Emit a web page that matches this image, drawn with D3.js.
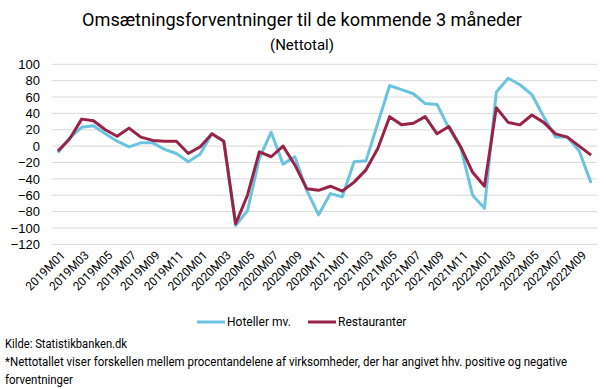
<!DOCTYPE html>
<html lang="da">
<head>
  <meta charset="UTF-8">
  <title>Omsætningsforventninger</title>
  <script src="https://d3js.org/d3.v7.min.js"></script>
  <style>
    body { margin: 0; background: #fff; }
    svg { font-family: Roboto, "Noto Sans", sans-serif; }
  </style>
</head>
<body>
  <div id="chart"></div>

  <script>
    // data
    const months = [
      "2019M01","2019M02","2019M03","2019M04","2019M05","2019M06","2019M07","2019M08","2019M09","2019M10","2019M11","2019M12",
      "2020M01","2020M02","2020M03","2020M04","2020M05","2020M06","2020M07","2020M08","2020M09","2020M10","2020M11","2020M12",
      "2021M01","2021M02","2021M03","2021M04","2021M05","2021M06","2021M07","2021M08","2021M09","2021M10","2021M11","2021M12",
      "2022M01","2022M02","2022M03","2022M04","2022M05","2022M06","2022M07","2022M08","2022M09","2022M10"
    ];
    const hoteller = [
      -8, 10, 23, 25, 15, 6, -1, 4, 4, -4, -9, -19,
      -10, 15, 6, -97, -79, -15, 17, -22, -13, -54, -84, -58,
      -62, -19, -18, 28, 74, 69, 64, 52, 51, 22, -2, -60,
      -76, 66, 83, 75, 63, 36, 11, 11, -6, -45
    ];
    const restauranter = [
      -6, 9, 33, 31, 20, 12, 22, 11, 7, 6, 6, -9,
      -1, 15, 6, -95, -60, -7, -13, 0, -23, -52, -54, -49,
      -55, -44, -29, -3, 36, 26, 28, 36, 15, 24, -1, -32,
      -49, 47, 29, 26, 38, 29, 15, 11, 0, -11
    ];
    const yTicks = [100, 80, 60, 40, 20, 0, -20, -40, -60, -80, -100, -120];
    const seriesNames = ["Hoteller mv.", "Restauranter"];
    const colors = ["#6ac4df", "#992247"];

    const W = 606, H = 389;
    const svg = d3.select("#chart").append("svg")
      .attr("width", W).attr("height", H);

    const x = d3.scaleBand().domain(months).range([52, 597]);
    const y = d3.scaleLinear().domain([-120, 100]).range([244.3, 64.3]);
    const cx = d => x(d) + x.bandwidth() / 2;

    // title
    svg.append("text")
      .attr("x", 302).attr("y", 26)
      .attr("text-anchor", "middle")
      .style("font-size", "18px")
      .attr("textLength", 440).attr("lengthAdjust", "spacingAndGlyphs")
      .text("Omsætningsforventninger til de kommende 3 måneder");
    svg.append("text")
      .attr("x", 302).attr("y", 50)
      .attr("text-anchor", "middle")
      .style("font-size", "14px")
      .attr("textLength", 64).attr("lengthAdjust", "spacingAndGlyphs")
      .text("(Nettotal)");

    // grid + y axis
    svg.append("g").selectAll("line")
      .data(yTicks).enter().append("line")
      .attr("x1", 52).attr("x2", 597)
      .attr("y1", d => y(d)).attr("y2", d => y(d))
      .attr("stroke", "#d9d9d9").attr("stroke-width", 1);

    const yAxis = svg.append("g")
      .attr("transform", "translate(40,0)")
      .call(d3.axisLeft(y).tickValues(yTicks).tickSize(0).tickPadding(0));
    yAxis.select(".domain").remove();
    yAxis.selectAll("text").style("font-size", "13px").attr("fill", "#000");

    // x labels
    svg.append("g").selectAll("text")
      .data(months.filter((d, i) => i % 2 === 0)).enter().append("text")
      .attr("transform", d => `translate(${cx(d) + 5},${253}) rotate(-45)`)
      .attr("text-anchor", "end")
      .attr("dy", "0.35em")
      .style("font-size", "12px")
      .attr("textLength", 50).attr("lengthAdjust", "spacingAndGlyphs")
      .text(d => d);

    // lines
    const line = d3.line().x((d, i) => cx(months[i])).y(d => y(d));
    [hoteller, restauranter].forEach((s, k) => {
      svg.append("path")
        .datum(s)
        .attr("fill", "none")
        .attr("stroke", colors[k])
        .attr("stroke-width", 3)
        .attr("stroke-linejoin", "round")
        .attr("d", line);
    });

    // legend
    const legX = [197, 308];
    seriesNames.forEach((n, k) => {
      svg.append("line")
        .attr("x1", legX[k]).attr("x2", legX[k] + 28)
        .attr("y1", 322).attr("y2", 322)
        .attr("stroke", colors[k]).attr("stroke-width", 3);
      svg.append("text")
        .attr("x", legX[k] + 30).attr("y", 322)
        .attr("dy", "0.35em")
        .style("font-size", "12px")
        .text(n);
    });

    // footer
    const foot = [
      ["Kilde: Statistikbanken.dk", 344, 122],
      ["*Nettotallet viser forskellen mellem procentandelene af virksomheder, der har angivet hhv. positive og negative", 362, 562],
      ["forventninger", 380, 68]
    ];
    svg.append("g").selectAll("text")
      .data(foot).enter().append("text")
      .attr("x", 5).attr("y", d => d[1])
      .attr("dy", "0.35em")
      .style("font-size", "12px")
      .attr("textLength", d => d[2]).attr("lengthAdjust", "spacingAndGlyphs")
      .text(d => d[0]);
  </script>
</body>
</html>
